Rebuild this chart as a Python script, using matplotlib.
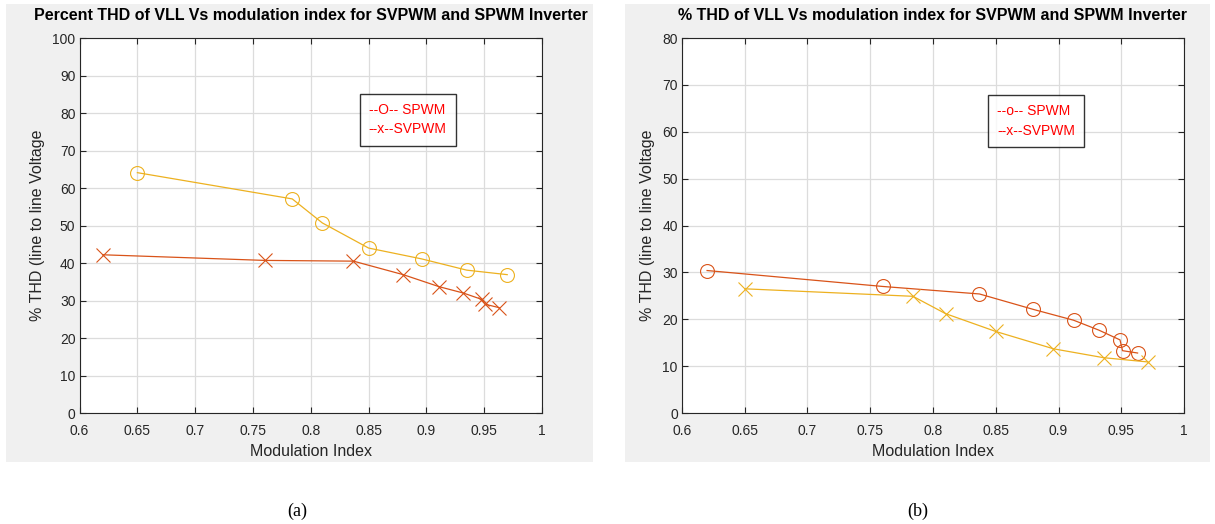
import matplotlib.pyplot as plt
from matplotlib.patches import Rectangle

# panel (a)
a_spwm_m = [0.65, 0.784, 0.81, 0.85, 0.896, 0.935, 0.97]
a_spwm_thd = [64.1, 57.1, 50.7, 44.0, 41.1, 38.1, 36.9]
a_svpwm_m = [0.62, 0.76, 0.837, 0.88, 0.911, 0.932, 0.948, 0.951, 0.963]
a_svpwm_thd = [42.2, 40.7, 40.5, 36.9, 33.7, 32.0, 30.3, 29.0, 28.1]

# panel (b)
b_spwm_m = [0.62, 0.76, 0.837, 0.88, 0.912, 0.932, 0.949, 0.951, 0.963]
b_spwm_thd = [30.4, 27.0, 25.4, 22.1, 19.8, 17.7, 15.6, 13.3, 12.8]
b_svpwm_m = [0.65, 0.784, 0.81, 0.85, 0.896, 0.936, 0.971]
b_svpwm_thd = [26.5, 24.9, 21.2, 17.4, 13.7, 11.8, 10.9]

x_ticks = [0.6, 0.65, 0.7, 0.75, 0.8, 0.85, 0.9, 0.95, 1]
x_tick_labels = ['0.6', '0.65', '0.7', '0.75', '0.8', '0.85', '0.9', '0.95', '1']

YELLOW = '#EDB120'
ORANGE = '#D95319'
TEXT = '#262626'

plt.rcParams['font.family'] = ['Liberation Sans', 'DejaVu Sans']

fig = plt.figure(figsize=(12.15, 5.24), dpi=100)

# grey figure backgrounds (MATLAB style)
fig.patches.append(Rectangle((0.005, 0.118), 0.483, 0.874, transform=fig.transFigure,
                             facecolor='#F0F0F0', edgecolor='none', zorder=-10))
fig.patches.append(Rectangle((0.514, 0.118), 0.482, 0.874, transform=fig.transFigure,
                             facecolor='#F0F0F0', edgecolor='none', zorder=-10))

ax1 = fig.add_axes([0.0655, 0.2118, 0.3805, 0.7156])
ax2 = fig.add_axes([0.5613, 0.2118, 0.4132, 0.7156])


def style_axes(ax, ymax, title, legend_labels, legend_pos):
    ax.set_xlim(0.6, 1)
    ax.set_ylim(0, ymax)
    ax.set_xticks(x_ticks)
    ax.set_xticklabels(x_tick_labels)
    ax.set_yticks(range(0, ymax + 1, 10))
    ax.tick_params(direction='in', length=4, width=0.8, top=True, right=True,
                   labelsize=10, colors=TEXT)
    ax.tick_params(axis='x', pad=8)
    ax.tick_params(axis='y', pad=3)
    ax.grid(True, color='#DCDCDC', linewidth=0.9)
    ax.set_axisbelow(True)
    for sp in ax.spines.values():
        sp.set_color(TEXT)
        sp.set_linewidth(0.8)
    ax.set_title(title, fontsize=11.5, fontweight='bold', color='black', pad=13)
    ax.set_xlabel('Modulation Index', fontsize=11.5, color=TEXT, labelpad=4)
    ax.set_ylabel('% THD (line to line Voltage', fontsize=11.5, color=TEXT, labelpad=5)
    leg = ax.legend(legend_labels, loc='upper left', bbox_to_anchor=legend_pos,
                    borderaxespad=0, fontsize=10, labelcolor='red',
                    handlelength=0, handletextpad=0, frameon=True, fancybox=False,
                    edgecolor='black', borderpad=0.65, labelspacing=0.4)
    leg.get_frame().set_linewidth(1.0)
    for h in leg.legend_handles:
        h.set_visible(False)


# (a)
ax1.plot(a_spwm_m, a_spwm_thd, '-', color=YELLOW, linewidth=0.9, marker='o',
         markersize=10, markerfacecolor='none', markeredgewidth=0.8)
ax1.plot(a_svpwm_m, a_svpwm_thd, '-', color=ORANGE, linewidth=0.9, marker='x',
         markersize=10, markeredgewidth=0.8)
style_axes(ax1, 100, 'Percent THD of VLL Vs modulation index for SVPWM and SPWM Inverter',
           ['--O-- SPWM', '--x--SVPWM'], (0.606, 0.851))

# (b)
ax2.plot(b_spwm_m, b_spwm_thd, '-', color=ORANGE, linewidth=0.9, marker='o',
         markersize=10, markerfacecolor='none', markeredgewidth=0.8)
ax2.plot(b_svpwm_m, b_svpwm_thd, '-', color=YELLOW, linewidth=0.9, marker='x',
         markersize=10, markeredgewidth=0.8)
style_axes(ax2, 80, '% THD of VLL Vs modulation index for SVPWM and SPWM Inverter',
           ['--o-- SPWM', '--x--SVPWM'], (0.61, 0.848))

fig.text(0.2445, 0.016, '(a)', fontsize=13, family='Liberation Serif', ha='center')
fig.text(0.7555, 0.016, '(b)', fontsize=13, family='Liberation Serif', ha='center')

fig.savefig('out.png', dpi=100)
